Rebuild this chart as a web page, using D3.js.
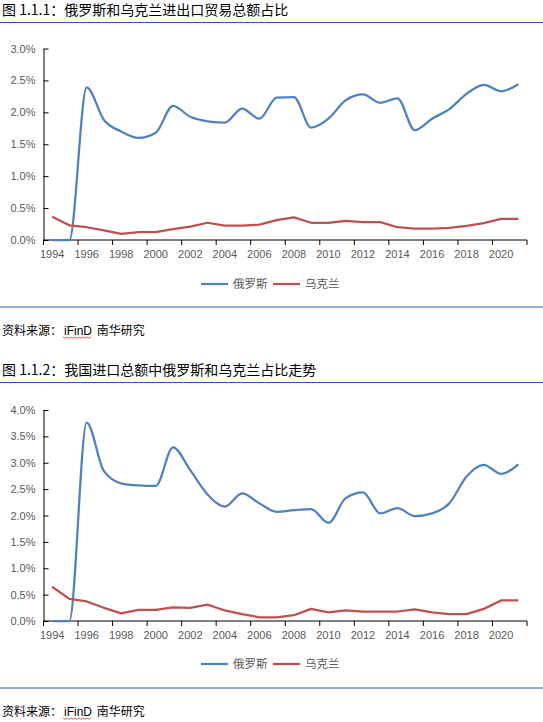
<!DOCTYPE html>
<html><head><meta charset="utf-8">
<script src="https://cdn.jsdelivr.net/npm/d3@7"></script>
<style>
html,body{margin:0;padding:0;background:#fff;}
svg{display:block;}
</style></head>
<body>
<svg id="c" width="543" height="722"></svg>
<script>
// ---------- data ----------
const years = [1994,1995,1996,1997,1998,1999,2000,2001,2002,2003,2004,2005,2006,2007,
  2008,2009,2010,2011,2012,2013,2014,2015,2016,2017,2018,2019,2020,2021];
const labelYears = [1994,1996,1998,2000,2002,2004,2006,2008,2010,2012,2014,2016,2018,2020];
const seriesNames = ["俄罗斯", "乌克兰"];

// Chart 1: share of total import+export trade (%)
const russiaTrade = [0.00,0.00,2.39,1.88,1.70,1.60,1.68,2.10,1.93,1.86,1.84,2.06,1.90,2.23,
  2.24,1.76,1.90,2.19,2.28,2.15,2.22,1.72,1.90,2.05,2.29,2.43,2.33,2.44];
const ukraineTrade = [0.365,0.23,0.20,0.15,0.095,0.125,0.125,0.17,0.21,0.27,0.225,0.225,0.24,0.31,
  0.355,0.27,0.27,0.30,0.28,0.28,0.20,0.18,0.18,0.19,0.22,0.265,0.33,0.33];
const ticks1 = [0,0.5,1.0,1.5,2.0,2.5,3.0];

// Chart 2: share of total imports (%)
const russiaImport = [0.00,0.00,3.76,2.84,2.61,2.57,2.56,3.29,2.86,2.40,2.17,2.42,2.23,2.07,
  2.10,2.12,1.86,2.33,2.44,2.04,2.14,1.99,2.04,2.23,2.74,2.96,2.79,2.97];
const ukraineImport = [0.65,0.42,0.37,0.25,0.145,0.21,0.21,0.26,0.25,0.31,0.20,0.13,0.07,0.07,
  0.11,0.23,0.165,0.20,0.18,0.18,0.18,0.22,0.165,0.13,0.13,0.23,0.39,0.39];
const ticks2 = [0,0.5,1.0,1.5,2.0,2.5,3.0,3.5,4.0];

const titles = ["图 1.1.1：俄罗斯和乌克兰进出口贸易总额占比", "图 1.1.2：我国进口总额中俄罗斯和乌克兰占比走势"];
const sourceText = ["资料来源：", "iFinD", " 南华研究"];

// ---------- styles ----------
const BLUE = "#4f81bd", RED = "#c0504d", RULE = "#1f60a8", AXT = "#595959";
const cjk = "'Noto Sans CJK SC','Noto Sans',sans-serif";
const num = "'Liberation Sans',Arial,sans-serif";

const svg = d3.select("#c");
const L = 43.5, R = 527;

function panel(top, cfg, idx) {
  const g = svg.append("g");
  // title
  g.append("text").attr("x", 2).attr("y", top + 15)
    .attr("font-family", cjk).attr("font-size", 14).attr("fill", "#000")
    .text(cfg.title);
  g.append("line").attr("x1", 0).attr("x2", 543).attr("y1", top + 22.5).attr("y2", top + 22.5)
    .attr("stroke", RULE).attr("stroke-width", 1.2);

  const x = d3.scaleBand().domain(years).range([L, R]).padding(0);
  const cx = d => x(d) + x.bandwidth() / 2;
  const y = d3.scaleLinear().domain([0, cfg.max]).range([top + cfg.y0, top + cfg.yTop]);

  // y axis
  const ya = g.append("g").attr("transform", `translate(${L},0)`)
    .call(d3.axisLeft(y).tickValues(cfg.ticks).tickSizeInner(-5).tickSizeOuter(0).tickPadding(8)
      .tickFormat(d => d.toFixed(1) + "%"));
  ya.select(".domain").attr("stroke", "#000");
  ya.selectAll(".tick line").attr("stroke", "#000");
  ya.selectAll("text").attr("font-family", num).attr("font-size", 11).attr("fill", AXT);

  // x axis labels
  const xa = g.append("g").attr("transform", `translate(0,${y(0)})`)
    .call(d3.axisBottom(x).tickValues(labelYears).tickSize(0).tickPadding(10));
  xa.select(".domain").remove();
  xa.selectAll("text").attr("font-family", num).attr("font-size", 11).attr("fill", AXT);
  // x axis line and tick marks at category boundaries every 2 categories
  g.append("line").attr("x1", L).attr("x2", R).attr("y1", y(0)).attr("y2", y(0))
    .attr("stroke", "#000").attr("stroke-width", 1);
  const tickPos = labelYears.map(d => x(d)).concat([R]);
  g.selectAll(".xt").data(tickPos).join("line")
    .attr("x1", d => d).attr("x2", d => d).attr("y1", y(0)).attr("y2", y(0) + 5)
    .attr("stroke", "#000");

  // lines
  const smooth = d3.line().x((d, i) => cx(years[i])).y(d => y(d)).curve(d3.curveMonotoneX);
  const straight = d3.line().x((d, i) => cx(years[i])).y(d => y(d));
  g.append("path").attr("d", smooth(cfg.russia))
    .attr("fill", "none").attr("stroke", BLUE).attr("stroke-width", 2.25).attr("stroke-linejoin", "round");
  g.append("path").attr("d", straight(cfg.ukraine))
    .attr("fill", "none").attr("stroke", RED).attr("stroke-width", 2.25).attr("stroke-linejoin", "round");

  // legend
  const ly = top + cfg.legY;
  const items = [{n: seriesNames[0], c: BLUE, x: 201}, {n: seriesNames[1], c: RED, x: 273}];
  items.forEach(it => {
    g.append("line").attr("x1", it.x).attr("x2", it.x + 27).attr("y1", ly).attr("y2", ly)
      .attr("stroke", it.c).attr("stroke-width", 2.25);
    g.append("text").attr("x", it.x + 32).attr("y", ly + 4).attr("font-family", cjk)
      .attr("font-size", 11.5).attr("fill", AXT).text(it.n);
  });

  // bottom rule
  g.append("line").attr("x1", 0).attr("x2", 543).attr("y1", top + cfg.ruleY).attr("y2", top + cfg.ruleY)
    .attr("stroke", RULE).attr("stroke-width", 1.2);

  // source
  const st = g.append("text").attr("x", 2).attr("y", top + cfg.srcY + 4.5)
    .attr("font-family", cjk).attr("font-size", 12).attr("fill", "#000");
  st.append("tspan").text(sourceText[0]);
  st.append("tspan").attr("font-family", num).attr("dx", 2).text(sourceText[1]);
  st.append("tspan").attr("dx", 2).text(sourceText[2]);
  // spell-check squiggle under iFinD
  const zz = [];
  for (let k = 0; k <= 14; k++) zz.push([63 + k * 2, top + cfg.srcY + 7 + (k % 2 ? 1.3 : 0)]);
  g.append("path").attr("d", d3.line()(zz)).attr("fill", "none").attr("stroke", "#e03030").attr("stroke-width", 0.8);
}

panel(0, {title: titles[0], max: 3.0, ticks: ticks1, yTop: 48.5, y0: 240,
  russia: russiaTrade, ukraine: ukraineTrade, legY: 284, ruleY: 307, srcY: 330}, 1);
panel(360, {title: titles[1], max: 4.0, ticks: ticks2, yTop: 50, y0: 261,
  russia: russiaImport, ukraine: ukraineImport, legY: 304, ruleY: 328, srcY: 351}, 2);
</script>
</body></html>
